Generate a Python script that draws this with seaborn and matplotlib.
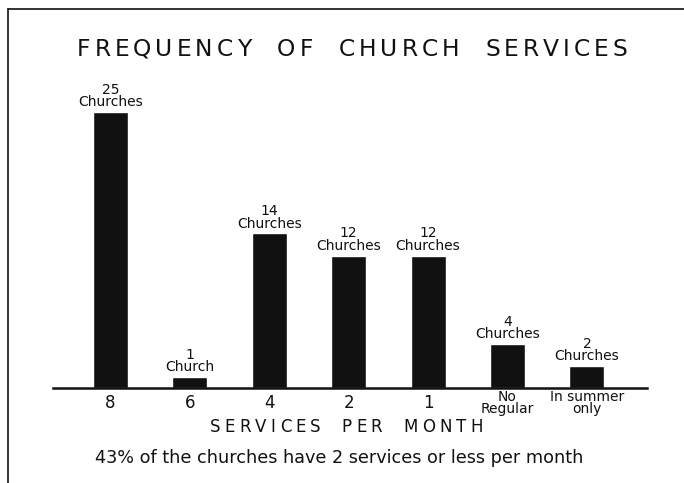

# Fréquence des services religieux : reproduction d'un vieux graphique en barres
import matplotlib
matplotlib.use("Agg")
import matplotlib.pyplot as plt
from matplotlib.lines import Line2D
import pandas as pd
import seaborn as sns

# Données
categories = ["8", "6", "4", "2", "1", "No\nRegular", "In summer\nonly"]
churches = [25, 1, 14, 12, 12, 4, 2]
bar_labels = ["25\nChurches", "1\nChurch", "14\nChurches", "12\nChurches",
              "12\nChurches", "4\nChurches", "2\nChurches"]

TITLE = "FREQUENCY OF CHURCH SERVICES"
XLABEL = "SERVICES PER MONTH"
NOTE = "43% of the churches have 2 services or less per month"

df = pd.DataFrame({"services": categories, "churches": churches})

sns.set_style("white")
plt.rcParams["font.family"] = ["DejaVu Sans"]

INK = "#111111"


def spaced_text(fig, text, x0, x1, y_base, size, word_gap):
    # lettrage espacé : on place chaque lettre pour remplir [x0, x1] (en pixels)
    renderer = fig.canvas.get_renderer()
    W, H = fig.bbox.width, fig.bbox.height
    words = text.split()
    widths = []
    for w in words:
        ws = []
        for ch in w:
            t = fig.text(0, 0, ch, fontsize=size)
            ws.append(t.get_window_extent(renderer).width)
            t.remove()
        widths.append(ws)
    letters = sum(sum(ws) for ws in widths)
    n_track = sum(len(w) - 1 for w in words)
    track = (x1 - x0 - letters - word_gap * (len(words) - 1)) / n_track
    x = x0
    for w, ws in zip(words, widths):
        for ch, cw in zip(w, ws):
            fig.text(x / W, 1 - y_base / H, ch, fontsize=size, ha="left",
                     va="baseline", color=INK)
            x += cw + track
        x += word_gap - track


fig = plt.figure(figsize=(6.84, 4.83), dpi=100)
ax = fig.add_axes([0.0775, 0.1967, 0.8684, 0.5963])

sns.barplot(data=df, x="services", y="churches", order=categories,
            color=INK, width=0.44, saturation=1, ax=ax)

ax.set_xlim(-0.724, 6.757)
ax.set_ylim(0, 26.09)

for i, (val, lab) in enumerate(zip(churches, bar_labels)):
    ax.text(i, val + 0.25, lab, ha="center", va="bottom", fontsize=10,
            color=INK, linespacing=0.85)

for side in ["top", "right", "left"]:
    ax.spines[side].set_visible(False)
ax.spines["bottom"].set_linewidth(1.8)
ax.spines["bottom"].set_color(INK)
ax.set_yticks([])
ax.set_ylabel("")
ax.set_xlabel("")
ax.tick_params(axis="x", length=0, pad=11, labelsize=12, colors=INK)
for lbl in ax.get_xticklabels():
    lbl.set_va("center")
    lbl.set_linespacing(0.85)
    if "\n" in lbl.get_text():
        lbl.set_fontsize(10)

# Titre, légende de l'axe et note en bas
spaced_text(fig, TITLE, 77, 627, 56, 16.8, 26)
spaced_text(fig, XLABEL, 210, 483, 432, 12, 21)
fig.text(95 / 684, 1 - 463 / 483, NOTE, ha="left", va="baseline",
         fontsize=12.7, color=INK)

# Cadre (haut et gauche)
fig.add_artist(Line2D([7.5 / 684, 1.0], [1 - 9 / 483, 1 - 9 / 483], color=INK, lw=1.2))
fig.add_artist(Line2D([7.5 / 684, 7.5 / 684], [0.0, 1 - 9 / 483], color=INK, lw=1.2))

fig.savefig("out.png", dpi=100)
